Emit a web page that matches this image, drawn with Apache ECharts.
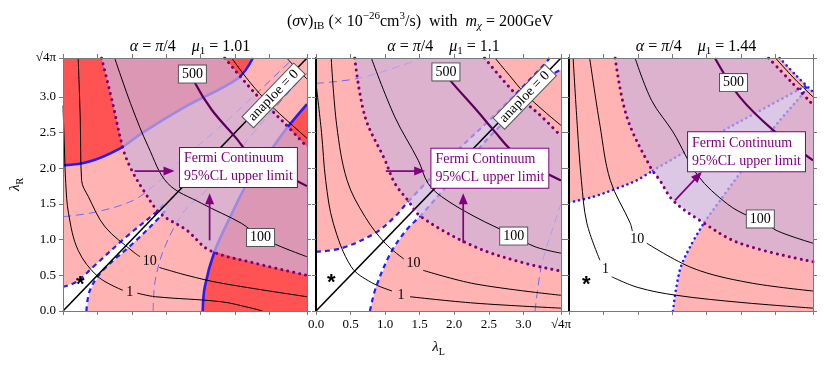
<!DOCTYPE html>
<html><head><meta charset="utf-8">
<script src="https://cdn.jsdelivr.net/npm/echarts@6/dist/echarts.min.js"></script>
<style>html,body{margin:0;padding:0;background:#fff}#c{width:830px;height:367px}</style>
</head><body><div id="c"></div>
<script>
const SQ = 3.5449; // sqrt(4*pi): axis maximum
const tickValues = [0, 0.5, 1, 1.5, 2, 2.5, 3, SQ];
const tickLabels = ['0.0','0.5','1.0','1.5','2.0','2.5','3.0','√4π'];
const mu1Values = ['1.01', '1.1', '1.44'];
const contourLabels = ['1', '10', '100', '500'];
const fermiText = 'Fermi Continuum\n95%CL upper limit';
const anapoleText = 'anaploe = 0';

// ---------- Panel 1 (mu1 = 1.01) ----------
const p1Curve1 = [[0,2.04],[0.37,2.09],[0.83,2.28],[1.14,2.49],[1.81,2.88],[2.54,3.26],[2.76,SQ]];
const p1Curve2 = [[2.03,0],[2.06,0.34],[2.2,0.83],[2.42,1.3],[2.7,1.83],[2.98,2.2],[3.25,2.56],[SQ,2.9]];
const p1WhiteUpper = [[0,0.34],[0.2,0.41],[0.44,0.62],[0.92,1.04],[1.36,1.39],[1.46,1.49]];
const p1WhiteLower = [[0.34,0],[0.39,0.29],[0.58,0.57],[1.02,0.95],[1.41,1.32],[1.5,1.43]];
const p1FermiInner = [[0.56,SQ],[0.71,2.96],[0.88,2.25],[1.0,1.97],[1.17,1.69],[1.41,1.37],[1.8,1.13],[2.13,0.85],[2.79,0.67],[SQ,0.5]];
const p1FermiOuter = [[2.35,SQ],[2.79,3.05],[3.22,2.63],[SQ,2.3]];
const p1C1a = [[0,2.88],[0.02,2.3],[0.04,1.79],[0.08,1.37],[0.22,0.85],[0.51,0.48],[0.87,0.29]];
const p1C1b = [[1.08,0.25],[1.34,0.2],[2.3,0.13],[2.74,0.04],[2.9,0]];
const p1C10a = [[0.22,SQ],[0.25,2.72],[0.27,1.83],[0.37,1.6],[0.61,1.18],[1.02,0.83],[1.12,0.76]];
const p1C10b = [[1.4,0.61],[1.8,0.5],[2.3,0.39],[SQ,0.2]];
const p1C100 = [[0.75,SQ],[1.0,2.86],[1.24,2.3],[1.52,1.79],[2.01,1.51],[2.59,1.23],[2.86,1.04],[3.17,0.9],[SQ,0.76]];
const p1C500 = [[1.9,3.3],[1.92,3.19],[2.16,2.82],[2.5,2.44],[2.79,2.11],[3.1,1.97],[SQ,1.75]];
const p1C1000 = [[2.45,SQ],[2.72,3.2],[3.0,2.9],[3.3,2.63],[SQ,2.42]];
const p1C5000 = [[3.25,SQ],[3.4,3.39],[SQ,3.25]];
const p1Dash1 = [[0,1.32],[0.49,1.39],[1.02,1.55],[1.36,1.79],[1.72,2.11],[2.5,2.77],[3.27,3.47],[3.35,SQ]];
const p1Dash2 = [[1.31,0],[1.34,0.43],[1.48,0.9],[1.77,1.41],[2.11,1.72],[2.77,2.5],[3.47,3.27],[SQ,3.33]];

// ---------- Panel 2 (mu1 = 1.1) ----------
const p2WhiteUpper = [[0,0.83],[0.37,0.88],[0.85,1.09],[1.14,1.32],[1.33,1.53],[2.08,2.28],[2.59,2.75],[3.3,3.45],[3.38,SQ]];
const p2WhiteLower = [[0.78,0],[0.87,0.34],[1.09,0.83],[1.33,1.16],[1.52,1.34],[2.49,2.42],[2.78,2.7],[3.4,3.3],[SQ,3.38]];
const p2FermiInner = [[0.56,SQ],[0.71,2.72],[1.0,2.11],[1.14,1.79],[1.33,1.55],[1.52,1.32],[2.3,0.9],[3.02,0.67],[SQ,0.56]];
const p2FermiOuter = [[2.44,SQ],[2.88,3.05],[3.27,2.72],[SQ,2.45]];
const p2C1a = [[0,3.19],[0.08,2.5],[0.14,1.83],[0.25,1.23],[0.51,0.62],[0.8,0.4],[1.1,0.28]];
const p2C1b = [[1.36,0.2],[2.3,0.11],[SQ,0.04]];
const p2C10a = [[0.22,SQ],[0.3,2.6],[0.45,1.83],[0.71,1.32],[1.0,0.95],[1.27,0.73]];
const p2C10b = [[1.55,0.57],[2.3,0.38],[SQ,0.22]];
const p2C100 = [[0.8,SQ],[1.14,2.72],[1.48,2.11],[1.62,1.79],[1.82,1.6],[2.3,1.32],[2.85,1.06],[3.17,0.9],[SQ,0.81]];
const p2C500 = [[1.9,3.3],[1.96,3.21],[2.3,2.84],[2.59,2.51],[2.83,2.25],[3.2,2.0],[SQ,1.83]];
const p2C1000 = [[2.59,SQ],[2.8,3.3],[3.02,3.05],[3.3,2.8],[SQ,2.6]];
const p2Dash1 = [[0,3.19],[0.61,3.26],[1.33,3.47],[1.5,SQ]];
const p2Dash2 = [[3.17,0],[3.27,0.67],[3.5,1.37],[SQ,1.5]];

// ---------- Panel 3 (mu1 = 1.44) ----------
const p3WhiteTop = [[0,1.52],[0.35,1.6],[0.7,1.72],[0.98,1.83],[1.22,1.97]];
const p3BandUpper = [[1.22,1.97],[2.0,2.4],[2.8,2.82],[3.45,3.16]];
const p3BandLower = [[1.97,1.25],[2.97,2.56],[3.4,3.05],[3.45,3.14]];
const p3WhiteRight = [[1.51,0],[1.61,0.57],[1.76,0.9],[1.97,1.25]];
const p3Wedge = [[3.06,SQ],[3.3,3.3],[SQ,3.07]];
const p3FermiInner = [[0.67,SQ],[0.84,2.72],[1.18,2.02],[1.32,1.83],[1.51,1.55],[1.9,1.27],[2.48,0.95],[SQ,0.69]];
const p3FermiOuter = [[2.9,SQ],[3.23,3.21],[SQ,2.89]];
const p3C1a = [[0.06,SQ],[0.12,2.6],[0.18,1.83],[0.26,1.23],[0.45,0.71]];
const p3C1b = [[0.62,0.48],[1.0,0.33],[1.56,0.22],[2.5,0.12],[SQ,0.04]];
const p3C10a = [[0.3,SQ],[0.45,2.6],[0.6,1.83],[0.89,1.23],[0.92,1.12]];
const p3C10b = [[1.13,0.95],[1.8,0.6],[2.6,0.4],[SQ,0.28]];
const p3C100 = [[0.96,SQ],[1.2,2.95],[1.51,2.51],[1.87,1.9],[2.3,1.5],[2.63,1.32],[2.8,1.28],[3.01,1.13],[SQ,0.95]];
const p3C500 = [[2.12,SQ],[2.48,3.0],[2.97,2.53],[SQ,2.11]];
const p3C1000 = [[3.0,SQ],[3.28,3.25],[SQ,3.0]];

// annotation anchors (data coordinates) per panel
const lbl500Pos = [[1.88,3.32],[1.88,3.35],[2.39,3.2]];
const lbl100Pos = [[2.87,1.03],[2.86,1.05],[2.78,1.29]];
const lbl10Pos = [[1.26,0.69],[1.41,0.67],[0.99,1.0]];
const lbl1Pos = [[0.97,0.26],[1.23,0.22],[0.53,0.58]];
const starPos = [[0.25,0.37],[0.22,0.4],[0.25,0.37]];
const anapolePos = [[3.06,3.02],[3.02,3.0]];
const fermiPos = [[1.7,2.01],[1.67,2.0],[1.73,2.23]];
const arrowsH = [[[1.04,1.96],[1.62,1.96]], [[1.01,1.96],[1.58,1.96]]];
const arrowsV = [[[2.13,0.99],[2.13,1.65]], [[2.13,0.95],[2.13,1.65]]];
const arrowsD = [[[1.54,1.55],[1.93,1.95]]];

// ---------- styling ----------
const SERIF = '"Liberation Serif","DejaVu Serif",serif';
const PINK = '#FFB3B3', RED = '#FF5252', WHITE = '#FFFFFF';
const OVER = 'rgba(206,178,218,0.72)', PURP = '#800080', DOTP = '#7A007A';
const BLUE = '#1E1EFF', FAINT = '#6A6AFF';

const series = [];
function ax(g){ return {xAxisIndex: g*2, yAxisIndex: g*2}; }
function poly(g, pts, fill, z){
  series.push(Object.assign({type:'custom', z, silent:true, clip:true, data:[[0,0]],
    renderItem:(p, api)=>({type:'polygon', shape:{points: pts.map(q=>api.coord(q))}, style:{fill}})}, ax(g)));
}
function line(g, pts, color, width, type, z, cap){
  series.push(Object.assign({type:'line', data:pts, symbol:'none', showSymbol:false, smooth:0.35, z, silent:true, clip:true,
    lineStyle:{color, width, type: type||'solid', cap: cap||'butt'}}, ax(g)));
}
function label(g, pos, text, lab, z){
  series.push(Object.assign({type:'scatter', data:[pos], symbolSize:1, itemStyle:{color:'rgba(0,0,0,0)', opacity:1}, z: z||7, silent:true,
    label:Object.assign({show:true, position:'inside', formatter:text, fontFamily:SERIF, fontSize:14, color:'#000', opacity:1}, lab)}, ax(g)));
}
function arrow(g, from, to){
  series.push(Object.assign({type:'custom', z:6, silent:true, data:[[0,0]],
    renderItem:(p, api)=>{
      const a = api.coord(from), b = api.coord(to);
      const dx=b[0]-a[0], dy=b[1]-a[1], L=Math.hypot(dx,dy), ux=dx/L, uy=dy/L, hl=11, hw=4.5;
      const c=[b[0]-ux*hl, b[1]-uy*hl];
      return {type:'group', children:[
        {type:'line', shape:{x1:a[0],y1:a[1],x2:c[0]+ux*2,y2:c[1]+uy*2}, style:{stroke:PURP, lineWidth:1.7}},
        {type:'polygon', shape:{points:[b,[c[0]-uy*hw,c[1]+ux*hw],[c[0]+uy*hw,c[1]-ux*hw]]}, style:{fill:PURP}}
      ]};
    }}, ax(g)));
}
const rev = a => a.slice().reverse();
const boxed = {backgroundColor:'#fff', borderColor:'#555', borderWidth:1, padding:[2,3,1,3]};
const dotStyle = [0.1, 6];

// ---------- panel 1 ----------
poly(0, [[0,0], ...p1Curve1, [SQ,SQ], ...rev(p1Curve2)], PINK, 1);
poly(0, [[0,0], ...p1WhiteUpper, ...rev(p1WhiteLower)], WHITE, 1);
line(0, p1Dash1, FAINT, 1, [8,5], 2);
line(0, p1Dash2, FAINT, 1, [8,5], 2);
line(0, p1Curve1, BLUE, 2.6, 'solid', 2);
line(0, p1Curve2, BLUE, 2.6, 'solid', 2);
line(0, p1WhiteUpper, BLUE, 2.2, [5,4], 2);
line(0, p1WhiteLower, BLUE, 2.2, [5,4], 2);
poly(0, [...p1FermiInner, ...rev(p1FermiOuter)], OVER, 3);
[p1C1a,p1C1b,p1C10a,p1C10b,p1C100,p1C1000,p1C5000].forEach(c=>line(0, c, '#000', 1, 'solid', 4));
line(0, [[0,0],[SQ,SQ]], '#000', 1.6, 'solid', 4);
line(0, p1C500, '#5a005a', 2.2, 'solid', 4);
line(0, p1FermiInner, DOTP, 3, dotStyle, 5, 'round');
line(0, p1FermiOuter, DOTP, 3, dotStyle, 5, 'round');

// ---------- panel 2 ----------
poly(1, [[0,0], ...p2WhiteUpper, [SQ,SQ], ...rev(p2WhiteLower)], WHITE, 1);
line(1, p2Dash1, FAINT, 1, [8,5], 2);
line(1, p2Dash2, FAINT, 1, [8,5], 2);
line(1, p2WhiteUpper, BLUE, 2.2, [5,4], 2);
line(1, p2WhiteLower, BLUE, 2.2, [5,4], 2);
poly(1, [...p2FermiInner, ...rev(p2FermiOuter)], OVER, 3);
[p2C1a,p2C1b,p2C10a,p2C10b,p2C100,p2C1000].forEach(c=>line(1, c, '#000', 1, 'solid', 4));
line(1, [[0,0],[SQ,SQ]], '#000', 1.6, 'solid', 4);
line(1, p2C500, '#5a005a', 2.2, 'solid', 4);
line(1, p2FermiInner, DOTP, 3, dotStyle, 5, 'round');
line(1, p2FermiOuter, DOTP, 3, dotStyle, 5, 'round');

// ---------- panel 3 ----------
poly(2, [[0,0], ...p3WhiteTop, ...p3BandUpper.slice(1), [3.06,SQ],[SQ,SQ],[SQ,3.07], ...rev(p3BandLower), ...rev(p3WhiteRight)], WHITE, 1);
line(2, p3WhiteTop, BLUE, 2.6, [0.1,5], 2, 'round');
line(2, p3WhiteRight, BLUE, 2.6, [0.1,5], 2, 'round');
line(2, p3Wedge, BLUE, 2.6, [0.1,5], 2, 'round');
line(2, p3BandUpper, BLUE, 2.6, [0.1,5], 2, 'round');
line(2, p3BandLower, BLUE, 2.6, [0.1,5], 2, 'round');
poly(2, [...p3FermiInner, ...rev(p3FermiOuter)], OVER, 3);
[p3C1a,p3C1b,p3C10a,p3C10b,p3C100,p3C1000].forEach(c=>line(2, c, '#000', 1, 'solid', 4));
line(2, p3C500, '#5a005a', 2.2, 'solid', 4);
line(2, p3FermiInner, DOTP, 3, dotStyle, 5, 'round');
line(2, p3FermiOuter, DOTP, 3, dotStyle, 5, 'round');

// ---------- annotations ----------
for (let g=0; g<3; g++){
  label(g, lbl500Pos[g], contourLabels[3], boxed);
  label(g, lbl100Pos[g], contourLabels[2], boxed);
  label(g, lbl10Pos[g], contourLabels[1], {});
  label(g, lbl1Pos[g], contourLabels[0], {});
  label(g, starPos[g], '*', {fontFamily:'"Liberation Sans",sans-serif', fontSize:22, fontWeight:'bold'});
  label(g, fermiPos[g], fermiText, {color:PURP, align:'left', verticalAlign:'middle', lineHeight:18,
    backgroundColor:'#fff', borderColor:PURP, borderWidth:1, padding:[2,4,1,4]}, 8);
}
for (let g=0; g<2; g++){
  label(g, anapolePos[g], anapoleText, Object.assign({rotate:46}, boxed, {padding:[1,4,0,4]}));
  arrow(g, arrowsH[g][0], arrowsH[g][1]);
  arrow(g, arrowsV[g][0], arrowsV[g][1]);
}
arrow(2, arrowsD[0][0], arrowsD[0][1]);

// ---------- layout ----------
const grids = [
  {left:63, top:58, width:244, height:253, show:true, backgroundColor:RED, borderWidth:0},
  {left:316, top:58, width:245, height:253, show:true, backgroundColor:PINK, borderWidth:0},
  {left:569, top:58, width:244, height:253, show:true, backgroundColor:PINK, borderWidth:0}
];
const fmt = v => { let best=0; tickValues.forEach((t,i)=>{ if (Math.abs(t-v)<Math.abs(tickValues[best]-v)) best=i; }); return tickLabels[best]; };
function mkRich(fs){
  const base = {fontFamily:SERIF, fontWeight:'normal', color:'#000'};
  const sfs = Math.round(fs*0.68);
  return {
    n:Object.assign({fontSize:fs, lineHeight:fs+5}, base),
    i:Object.assign({fontSize:fs, lineHeight:fs+5, fontStyle:'italic'}, base),
    sub:Object.assign({fontSize:sfs, lineHeight:sfs, verticalAlign:'bottom'}, base),
    subi:Object.assign({fontSize:sfs, lineHeight:sfs, verticalAlign:'bottom', fontStyle:'italic'}, base),
    sup:Object.assign({fontSize:sfs, lineHeight:sfs, verticalAlign:'top'}, base)
  };
}
const richAxis = mkRich(15), richTitle = mkRich(16);
const xAxes = [], yAxes = [];
for (let g=0; g<3; g++){
  ['bottom','top'].forEach(pos=>{
    const a = {gridIndex:g, type:'value', min:0, max:SQ, position:pos, z:10,
      axisLine:{show:true, onZero:false, lineStyle:{color:'#7a7a7a', width:1}},
      axisTick:{show:true, length:4, customValues:tickValues, lineStyle:{color:'#7a7a7a'}},
      axisLabel:{show: pos==='bottom' && g===1, customValues:tickValues, formatter:fmt, fontFamily:SERIF, fontSize:13, color:'#000', margin:7},
      splitLine:{show:false}};
    if (pos==='bottom' && g===1){ a.name='{i|λ}{sub|L}'; a.nameLocation='middle'; a.nameGap=26; a.nameTextStyle={rich:richAxis}; }
    xAxes.push(a);
  });
  ['left','right'].forEach(pos=>{
    const a = {gridIndex:g, type:'value', min:0, max:SQ, position:pos, z:10,
      axisLine:{show:true, onZero:false, lineStyle:{color: (pos==='left' && g>0) ? '#000' : '#7a7a7a', width: (pos==='left' && g>0) ? 2 : 1}},
      axisTick:{show:true, length:4, customValues:tickValues, lineStyle:{color:'#7a7a7a'}},
      axisLabel:{show: pos==='left' && g===0, customValues:tickValues, formatter:fmt, fontFamily:SERIF, fontSize:13, color:'#000', margin:7},
      splitLine:{show:false}};
    if (pos==='left' && g===0){ a.name='{i|λ}{sub|R}'; a.nameLocation='middle'; a.nameGap=38; a.nameRotate=90; a.nameTextStyle={rich:richAxis}; }
    yAxes.push(a);
  });
}
const titles = [{
  text:'{n|(}{i|σ}{n|v)}{sub|IB}{n| (× 10}{sup|−26}{n|cm}{sup|3}{n|/s)  with  }{i|m}{subi|χ}{n| = 200GeV}',
  left:415, top:6, textAlign:'center', textStyle:{fontWeight:'normal', rich:richTitle}
}];
const centers = [185, 438.5, 691];
for (let g=0; g<3; g++){
  titles.push({text:'{i|α}{n| = }{i|π}{n|/4    }{i|μ}{sub|1}{n| = ' + mu1Values[g] + '}', left:centers[g], top:31, textAlign:'center',
    textStyle:{fontWeight:'normal', rich:richTitle}});
}
const chart = echarts.init(document.getElementById('c'), null, {renderer:'canvas'});
chart.setOption({animation:false, backgroundColor:'#fff', title:titles, grid:grids, xAxis:xAxes, yAxis:yAxes, series});
</script></body></html>
